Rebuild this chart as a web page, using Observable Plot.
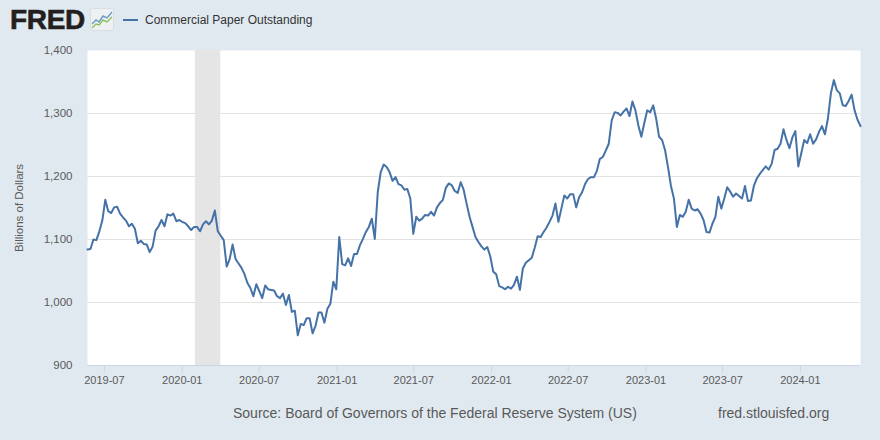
<!DOCTYPE html>
<html>
<head>
<meta charset="utf-8">
<script src="https://cdn.jsdelivr.net/npm/d3@7"></script>
<script src="https://cdn.jsdelivr.net/npm/@observablehq/plot@0.6"></script>
<style>
  html, body { margin: 0; padding: 0; background: #e1e9f0; }
  #wrap { position: relative; width: 880px; height: 440px; background: #e1e9f0; font-family: "Liberation Sans", Arial, sans-serif; overflow: hidden; }
  #chart { position: absolute; left: 0; top: 0; }
  #logo { position: absolute; left: 10px; top: 4px; font-weight: 700; font-size: 28px; color: #231f20; letter-spacing: -0.3px; line-height: 32px; -webkit-text-stroke: 0.6px #231f20; }
  #icon { position: absolute; left: 90px; top: 8px; }
  #legend { position: absolute; left: 123px; top: 11px; display: flex; align-items: center; height: 18px; }
  #legend .swatch { width: 15px; height: 2px; background: #4572a7; margin-right: 7px; }
  #legend .lab { font-size: 12px; color: #333; }
  .cap { position: absolute; top: 405px; font-size: 14px; color: #595959; white-space: nowrap; }
</style>
</head>
<body>
<div id="wrap">
  <div id="chart"></div>
  <div id="logo">FRED</div>
  <svg id="icon" width="24" height="23" viewBox="0 0 24 23">
    <rect x="0.5" y="0.5" width="23" height="22" rx="2" fill="#eef1f3" stroke="#d9dee2"/>
    <polyline points="2,16 6,12 9,14 13,8 17,10 22,4" fill="none" stroke="#6a9bc7" stroke-width="1.4"/>
    <polyline points="2,20 6,16 9,17 13,12 17,14 22,9" fill="none" stroke="#8fbf5a" stroke-width="1.4"/>
  </svg>
  <div id="legend"><div class="swatch"></div><div class="lab">Commercial Paper Outstanding</div></div>
  <div class="cap" style="left:233px">Source: Board of Governors of the Federal Reserve System (US)</div>
  <div class="cap" style="left:718px">fred.stlouisfed.org</div>
</div>
<script>
// Weekly series, first observation date
const startDate = "2019-05-22";
// Commercial Paper Outstanding, billions of dollars (weekly)
const values = [
  1084,1085,1100,1099,1113,1130,1163,1145,1142,1151,1152,1141,1135,1130,1121,1125,1117,1094,1098,1093,
  1092,1080,1089,1114,1121,1131,1121,1140,1138,1141,1129,1131,1128,1126,1121,1115,1120,1120,1113,1124,
  1129,1124,1130,1146,1113,1106,1099,1057,1069,1092,1069,1062,1055,1045,1031,1023,1010,1029,1018,1007,
  1027,1021,1020,1019,1010,1007,1014,996,1012,985,987,948,966,964,975,975,951,963,984,984,
  968,990,998,1033,1021,1104,1061,1059,1070,1058,1077,1077,1091,1101,1112,1120,1133,1101,1175,1207,
  1219,1215,1207,1193,1199,1188,1186,1179,1180,1165,1109,1136,1130,1133,1139,1138,1144,1138,1151,1158,
  1163,1182,1189,1186,1177,1174,1191,1179,1157,1136,1120,1104,1096,1089,1084,1088,1073,1049,1045,1026,
  1024,1021,1025,1022,1028,1041,1020,1054,1063,1067,1071,1087,1105,1104,1112,1119,1128,1138,1157,1128,
  1149,1170,1165,1172,1172,1151,1167,1175,1188,1196,1199,1199,1209,1228,1231,1241,1252,1289,1302,1301,
  1297,1303,1308,1296,1319,1305,1281,1263,1285,1305,1302,1313,1292,1263,1258,1242,1215,1185,1165,1120,
  1139,1136,1144,1163,1149,1146,1148,1141,1131,1112,1111,1125,1136,1168,1149,1165,1183,1176,1168,1173,
  1169,1165,1185,1161,1162,1185,1197,1204,1210,1216,1211,1220,1242,1244,1252,1275,1258,1245,1262,1272,
  1216,1237,1258,1253,1267,1252,1259,1271,1280,1267,1292,1332,1353,1337,1332,1313,1312,1320,1330,1305,
  1290,1280
];
// Recession shading
const recessionStarts = ["2020-02-01"];
const recessionEnds = ["2020-04-01"];
// Axis ticks
const yTicks = [900, 1000, 1100, 1200, 1300, 1400];
const xTickLabels = ["2019-07","2020-01","2020-07","2021-01","2021-07","2022-01","2022-07","2023-01","2023-07","2024-01"];
const seriesName = "Commercial Paper Outstanding";
const yLabel = "Billions of Dollars";

const start = new Date(startDate + "T00:00:00Z");
const data = values.map((v, i) => ({date: d3.utcDay.offset(start, 7 * i), value: v}));
const recessions = recessionStarts.map((s, i) => ({start: new Date(s + "T00:00:00Z"), end: new Date(recessionEnds[i] + "T00:00:00Z")}));
const xTicks = xTickLabels.map(s => new Date(s + "-01T00:00:00Z"));

const chart = Plot.plot({
  width: 880,
  height: 440,
  marginLeft: 87,
  marginRight: 20,
  marginTop: 50,
  marginBottom: 75,
  style: {background: "transparent", fontFamily: "'Liberation Sans', Arial, sans-serif", fontSize: "11px"},
  x: {type: "utc", domain: [data[0].date, data[data.length - 1].date]},
  y: {domain: [900, 1400]},
  marks: [
    Plot.frame({fill: "white", stroke: "none"}),
    Plot.rect(recessions, {x1: "start", x2: "end", fill: "#e5e5e5"}),
    Plot.gridY(yTicks.slice(1, -1), {stroke: "#e3e3e3", strokeOpacity: 1}),
    Plot.ruleY([900], {stroke: "#ccd6eb"}),
    Plot.axisY(yTicks, {tickSize: 0, tickPadding: 15, tickFormat: d3.format(","), fill: "#595959",
      label: yLabel, labelAnchor: "center", labelArrow: "none", labelOffset: 73, fontSize: "11.5px"}),
    Plot.axisX(xTicks, {tickSize: 8, stroke: "#ccd6eb", fill: "#595959", tickPadding: 3,
      tickFormat: d3.utcFormat("%Y-%m"), label: null}),
    Plot.lineY(data, {x: "date", y: "value", stroke: "#4572a7", strokeWidth: 2, title: () => seriesName})
  ]
});
document.getElementById("chart").appendChild(chart);
</script>
</body>
</html>
